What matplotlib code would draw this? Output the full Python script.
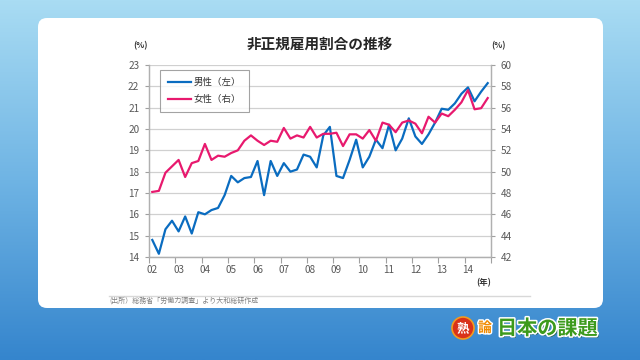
import numpy as np
import matplotlib
matplotlib.use('Agg')
import matplotlib.pyplot as plt
from matplotlib.colors import LinearSegmentedColormap
from matplotlib.patches import FancyBboxPatch, Circle
from matplotlib.lines import Line2D
import matplotlib.patheffects as pe

plt.rcParams['font.family'] = ['Noto Sans CJK JP', 'DejaVu Sans']

# -------------------
# データ (四半期, 2002Q1-2014Q4)
# -------------------
years = ['02', '03', '04', '05', '06', '07', '08', '09', '10', '11', '12', '13', '14']

male = [14.8, 14.15, 15.3, 15.7, 15.2, 15.9, 15.1, 16.1,
        16.0, 16.2, 16.3, 16.9, 17.8, 17.5, 17.7, 17.75,
        18.5, 16.9, 18.5, 17.8, 18.4, 18.0, 18.1, 18.8,
        18.7, 18.2, 19.7, 20.1, 17.8, 17.7, 18.55, 19.5,
        18.2, 18.7, 19.5, 19.1, 20.2, 19.0, 19.55, 20.5,
        19.65, 19.3, 19.75, 20.3, 20.95, 20.9, 21.2, 21.65,
        21.95, 21.3, 21.75, 22.15]

female = [48.1, 48.2, 49.9, 50.5, 51.1, 49.5, 50.8, 51.0,
          52.6, 51.1, 51.5, 51.4, 51.75, 52.0, 52.9, 53.4,
          52.9, 52.5, 52.9, 52.8, 54.1, 53.1, 53.4, 53.2,
          54.2, 53.2, 53.55, 53.55, 53.65, 52.4, 53.5, 53.5,
          53.1, 53.9, 52.9, 54.6, 54.4, 53.7, 54.6, 54.8,
          54.5, 53.6, 55.15, 54.6, 55.45, 55.2, 55.8, 56.5,
          57.65, 55.85, 55.95, 56.9]

BLUE = '#0a6cc0'
PINK = '#e8196e'
GRAY_TXT = '#595959'
GRID = '#d0d0d0'

fig = plt.figure(figsize=(6.4, 3.6), dpi=100)

# -------------------
# 背景
# -------------------
bg = fig.add_axes([0, 0, 1, 1])
bg.set_xlim(0, 640)
bg.set_ylim(360, 0)
bg.axis('off')
cmap = LinearSegmentedColormap.from_list('bg', ['#a9dcf3', '#6fb4e4', '#3585cd'])
grad = np.linspace(0, 1, 256).reshape(-1, 1)
bg.imshow(grad, extent=[0, 640, 360, 0], aspect='auto', cmap=cmap, zorder=0)
bg.add_patch(FancyBboxPatch((38, 18), 565, 290,
                            boxstyle='round,pad=0,rounding_size=9',
                            facecolor='white', edgecolor='none', zorder=1))

bg.text(320, 44, '非正規雇用割合の推移', ha='center', va='center',
        fontsize=10.5, fontweight='bold', color='#262626', zorder=2)
bg.text(141, 46, '(%)', ha='center', va='center', fontsize=6, fontweight='bold', color='#333333', zorder=2)
bg.text(498, 46, '(%)', ha='center', va='center', fontsize=6, fontweight='bold', color='#333333', zorder=2)
bg.text(484, 283, '(年)', ha='center', va='center', fontsize=6, fontweight='bold', color='#333333', zorder=2)

bg.plot([109, 530], [295.7, 295.7], color='#d8d8d8', lw=1, zorder=2)
bg.text(109, 300.5, '(出所）総務省「労働力調査」より大和総研作成', ha='left', va='center',
        fontsize=5, color='#7f7f7f', zorder=2)

# ロゴ
bg.add_patch(Circle((463, 328), 11, facecolor='#d9321a', edgecolor='#f39a1e', lw=1.2, zorder=3))
bg.text(463, 328.5, '熟', ha='center', va='center', fontsize=9, fontweight='bold',
        color='white', zorder=4)
bg.text(485, 328, '論', ha='center', va='center', fontsize=10, fontweight='bold',
        color='#f08a00', zorder=4,
        path_effects=[pe.withStroke(linewidth=2, foreground='white')])
bg.text(497, 328, '日本の課題', ha='left', va='center', fontsize=14.5, fontweight='bold',
        color='#3c9a1c', zorder=4,
        path_effects=[pe.withSimplePatchShadow(offset=(1.2, -1.2), shadow_rgbFace='#1d4f1a', alpha=0.8),
                      pe.withStroke(linewidth=2.2, foreground='white')])

# -------------------
# グラフ
# -------------------
x = np.arange(len(male))
ax = fig.add_axes([149 / 640, 1 - 257 / 360, (491 - 149) / 640, (257 - 65) / 360])
ax.set_facecolor('none')
ax2 = ax.twinx()

ax.plot(x, male, color=BLUE, lw=1.6, zorder=3)
ax2.plot(x, female, color=PINK, lw=1.6, zorder=3)

ax.set_xlim(-0.5, len(male) - 0.5)
ax.set_ylim(14, 23)
ax2.set_ylim(42, 60)
ax.set_yticks(np.arange(14, 24, 1))
ax2.set_yticks(np.arange(42, 61, 2))
ax.yaxis.grid(True, color=GRID, lw=0.9)
ax.set_axisbelow(True)

ax.set_xticks(np.arange(-0.5, len(male), 4))
ax.set_xticklabels([])
ax.set_xticks(np.arange(0, len(male), 4), minor=True)
ax.set_xticklabels(years, minor=True)
ax.tick_params(axis='x', which='major', length=4, color='#a0a0a0', direction='out')
ax.tick_params(axis='x', which='minor', length=0, pad=6, labelsize=7.2, labelcolor=GRAY_TXT)
ax.tick_params(axis='y', length=3, color='#a0a0a0', labelsize=7.2, labelcolor=GRAY_TXT, pad=4)
ax2.tick_params(axis='y', length=3, color='#a0a0a0', labelsize=7.2, labelcolor=GRAY_TXT, pad=4)

for a in (ax, ax2):
    a.spines['top'].set_visible(False)
    for s in ('left', 'right', 'bottom'):
        a.spines[s].set_color('#b0b0b0')
        a.spines[s].set_linewidth(0.9)

handles = [Line2D([], [], color=BLUE, lw=1.6), Line2D([], [], color=PINK, lw=1.6)]
leg = ax2.legend(handles, ['男性（左）', '女性（右）'], loc='upper left',
                 bbox_to_anchor=(0.032, 0.974), fontsize=6.8, frameon=True,
                 fancybox=False, edgecolor='#8c8c8c', handlelength=2.4,
                 borderpad=0.85, labelspacing=0.85, borderaxespad=0,
                 handletextpad=0.3)
leg.get_frame().set_linewidth(0.8)
for t in leg.get_texts():
    t.set_color('#333333')

fig.savefig('out.png', dpi=100)
